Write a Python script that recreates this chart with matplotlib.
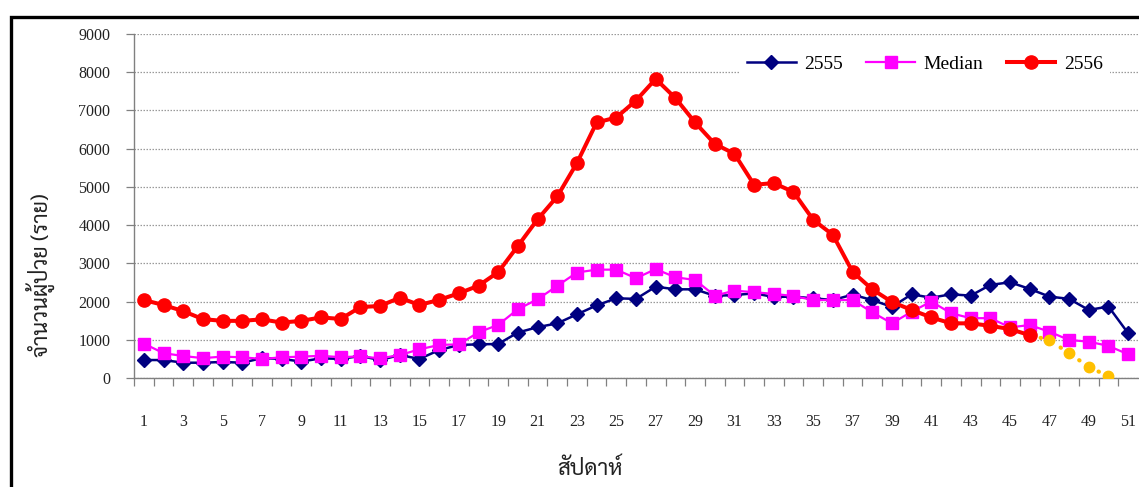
import matplotlib
matplotlib.use("Agg")
import matplotlib.pyplot as plt
from matplotlib import font_manager
from matplotlib.patches import Rectangle
from matplotlib.ticker import MultipleLocator

# weekly case counts
weeks = list(range(1, 52))

cases_2555 = [470, 470, 400, 400, 420, 400, 520, 500, 430, 515,
              500, 575, 470, 600, 500, 730, 865, 880, 890, 1190,
              1330, 1430, 1665, 1900, 2085, 2070, 2390, 2320, 2320, 2150,
              2170, 2215, 2120, 2130, 2085, 2040, 2180, 2040, 1860, 2190,
              2100, 2190, 2155, 2435, 2505, 2330, 2130, 2070, 1780, 1870,
              1170]

cases_median = [900, 650, 575, 520, 560, 540, 500, 540, 560, 580,
                545, 565, 515, 600, 750, 865, 880, 1195, 1390, 1800,
                2060, 2410, 2760, 2835, 2835, 2610, 2850, 2635, 2565, 2155,
                2285, 2245, 2200, 2145, 2040, 2040, 2040, 1720, 1430, 1735,
                2000, 1695, 1565, 1565, 1325, 1385, 1210, 995, 950, 840,
                620]

weeks_2556 = list(range(1, 47))
cases_2556 = [2040, 1910, 1750, 1540, 1495, 1495, 1535, 1450, 1495, 1585,
              1545, 1855, 1885, 2100, 1910, 2045, 2215, 2415, 2770, 3455,
              4150, 4750, 5625, 6685, 6815, 7260, 7825, 7325, 6685, 6125,
              5865, 5055, 5100, 4865, 4140, 3745, 2780, 2320, 1990, 1780,
              1585, 1430, 1430, 1365, 1280, 1120]

# reported so far, still expected to rise
weeks_late = [46, 47, 48, 49, 50]
cases_late = [1120, 995, 645, 295, 40]

xtick_labels = [str(w) for w in range(1, 52, 2)]

# pick a font that can draw Thai
installed = {f.name for f in font_manager.fontManager.ttflist}
thai_font = "DejaVu Sans"
for name in ["Sarabun", "Noto Sans Thai", "Taviraj", "Trirong", "Athiti", "Anuphan"]:
    if name in installed:
        thai_font = name
        break

plt.rcParams["font.family"] = ["Liberation Serif", "DejaVu Serif"]

fig = plt.figure(figsize=(11.39, 4.87), dpi=100)
ax = fig.add_axes([134 / 1139, 1 - 378 / 487, 1004 / 1139, 344 / 487])

ax.plot(weeks, cases_2555, color="#000080", lw=1.8, marker="D", ms=6.8,
        label="2555", zorder=3)
ax.plot(weeks, cases_median, color="#FF00FF", lw=1.6, marker="s", ms=8,
        label="Median", zorder=4)
ax.plot(weeks_late, cases_late, color="#FFC000", lw=3, marker="o", ms=7.5,
        linestyle=(0, (0.1, 2.6)), dash_capstyle="round", zorder=4.5)
ax.plot(weeks_2556, cases_2556, color="#FF0000", lw=2.9, marker="o", ms=9.5,
        label="2556", zorder=5)

ax.set_xlim(0.5, 51.5)
ax.set_ylim(0, 9000)
ax.yaxis.set_major_locator(MultipleLocator(1000))
ax.grid(axis="y", color="#9a9a9a", lw=0.9, linestyle=(0, (1.2, 1.2)))
ax.set_axisbelow(True)

ax.set_xticks(range(1, 52, 2))
ax.set_xticklabels(xtick_labels)
ax.set_xticks([w + 0.5 for w in range(0, 51)], minor=True)
ax.tick_params(axis="x", which="major", length=0, pad=26, labelsize=11.5,
               colors="#222222")
ax.tick_params(axis="x", which="minor", length=6, color="#808080", width=0.9)
ax.tick_params(axis="y", length=6, color="#808080", width=0.9, pad=11,
               labelsize=11.5, labelcolor="#222222")

for side in ["top", "right"]:
    ax.spines[side].set_visible(False)
for side in ["left", "bottom"]:
    ax.spines[side].set_color("#808080")
    ax.spines[side].set_linewidth(1.0)

leg = ax.legend(loc="center", bbox_to_anchor=(925 / 1139, 1 - 64 / 487),
                bbox_transform=fig.transFigure, ncol=3, frameon=True,
                facecolor="white", edgecolor="none", framealpha=1,
                fontsize=14, handlelength=2.5, handletextpad=0.45,
                columnspacing=1.2, borderpad=0.35)

fig.text(590 / 1139, 1 - 469 / 487, "สัปดาห์", family=thai_font,
         fontsize=16, ha="center", va="center", color="#222222")
fig.text(40 / 1139, 1 - 275 / 487, "จำนวนผู้ป่วย (ราย)", family=thai_font,
         fontsize=15.5, rotation=90, ha="center", va="center", color="#222222")

# frame around the figure
fig.patches.append(Rectangle((11 / 1139, -0.1), 1.2, 1.1 - 17 / 487,
                             transform=fig.transFigure, fill=False,
                             edgecolor="black", lw=2.4))

fig.savefig("out.png", dpi=100)
